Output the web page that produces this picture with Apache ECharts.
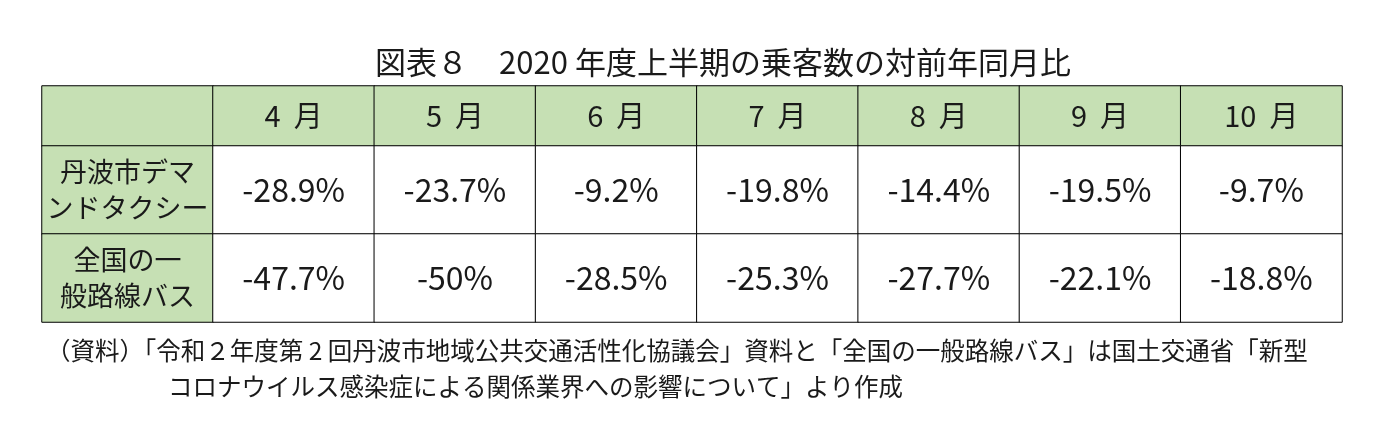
<!DOCTYPE html><html><head><meta charset="utf-8"><script src="https://cdn.jsdelivr.net/npm/echarts@6/dist/echarts.min.js"></script>
<style>body{margin:0;background:#fff}#c{width:1387px;height:439px}</style></head><body><div id="c"></div><script>
const months=['4 月','5 月','6 月','7 月','8 月','9 月','10 月'];
const rowNames=['丹波市デマ\nンドタクシー','全国の一\n般路線バス'];
const demand=[-28.9,-23.7,-9.2,-19.8,-14.4,-19.5,-9.7];
const bus=[-47.7,-50,-28.5,-25.3,-27.7,-22.1,-18.8];
const title='図表８　2020 年度上半期の乗客数の対前年同月比';
const note1='（資料）「令和２年度第 2 回丹波市地域公共交通活性化協議会」資料と「全国の一般路線バス」は国土交通省「新型';
const note2='コロナウイルス感染症による関係業界への影響について」より作成';
const F='"Noto Sans CJK JP", sans-serif';
const green='#c6e0b4', ink='#1a1a1a';
const chart=echarts.init(document.getElementById('c'));
const L=42,C1=213,R=1342,T=86,H1=146,B=322;
const grids=[{left:L,top:T,width:C1-L,height:H1-T},{left:C1,top:T,width:R-C1,height:H1-T},
{left:L,top:H1,width:C1-L,height:B-H1},{left:C1,top:H1,width:R-C1,height:B-H1}];
const ax=(n,i)=>({type:'category',gridIndex:i,data:Array.from({length:n},(_,k)=>k),show:false});
const xAxis=[ax(1,0),ax(7,1),ax(1,2),ax(7,3)];
const yAxis=[ax(1,0),ax(1,1),{...ax(2,2),inverse:true},{...ax(2,3),inverse:true}];
const base=(i,data,color,fmt,fs,lh)=>({type:'heatmap',xAxisIndex:i,yAxisIndex:i,data,
itemStyle:{color,borderColor:'#000',borderWidth:1},emphasis:{disabled:true},
label:{show:true,formatter:fmt,fontFamily:F,fontSize:fs,color:ink,lineHeight:lh||fs+6}});
const dataCells=[];demand.forEach((v,k)=>dataCells.push([k,0,v]));bus.forEach((v,k)=>dataCells.push([k,1,v]));
chart.setOption({animation:false,
title:{text:title,left:718,top:42,textAlign:'center',textStyle:{fontFamily:F,fontSize:31,fontWeight:'normal',color:ink}},
grid:grids,xAxis,yAxis,
series:[base(0,[[0,0,0]],green,()=>'',20),
base(1,months.map((m,k)=>[k,0,k]),green,p=>months[p.value[0]].replace(' ','  '),29),
base(2,rowNames.map((m,k)=>[0,k,k]),green,p=>rowNames[p.value[1]],27,36),
base(3,dataCells,'#fff',p=>p.value[2]+'%',32)],
graphic:[{type:'text',left:46,top:338,style:{text:note1,font:'24.5px '+F,fill:ink}},
{type:'text',left:168,top:374,style:{text:note2,font:'24.5px '+F,fill:ink}}]});
</script></body></html>
